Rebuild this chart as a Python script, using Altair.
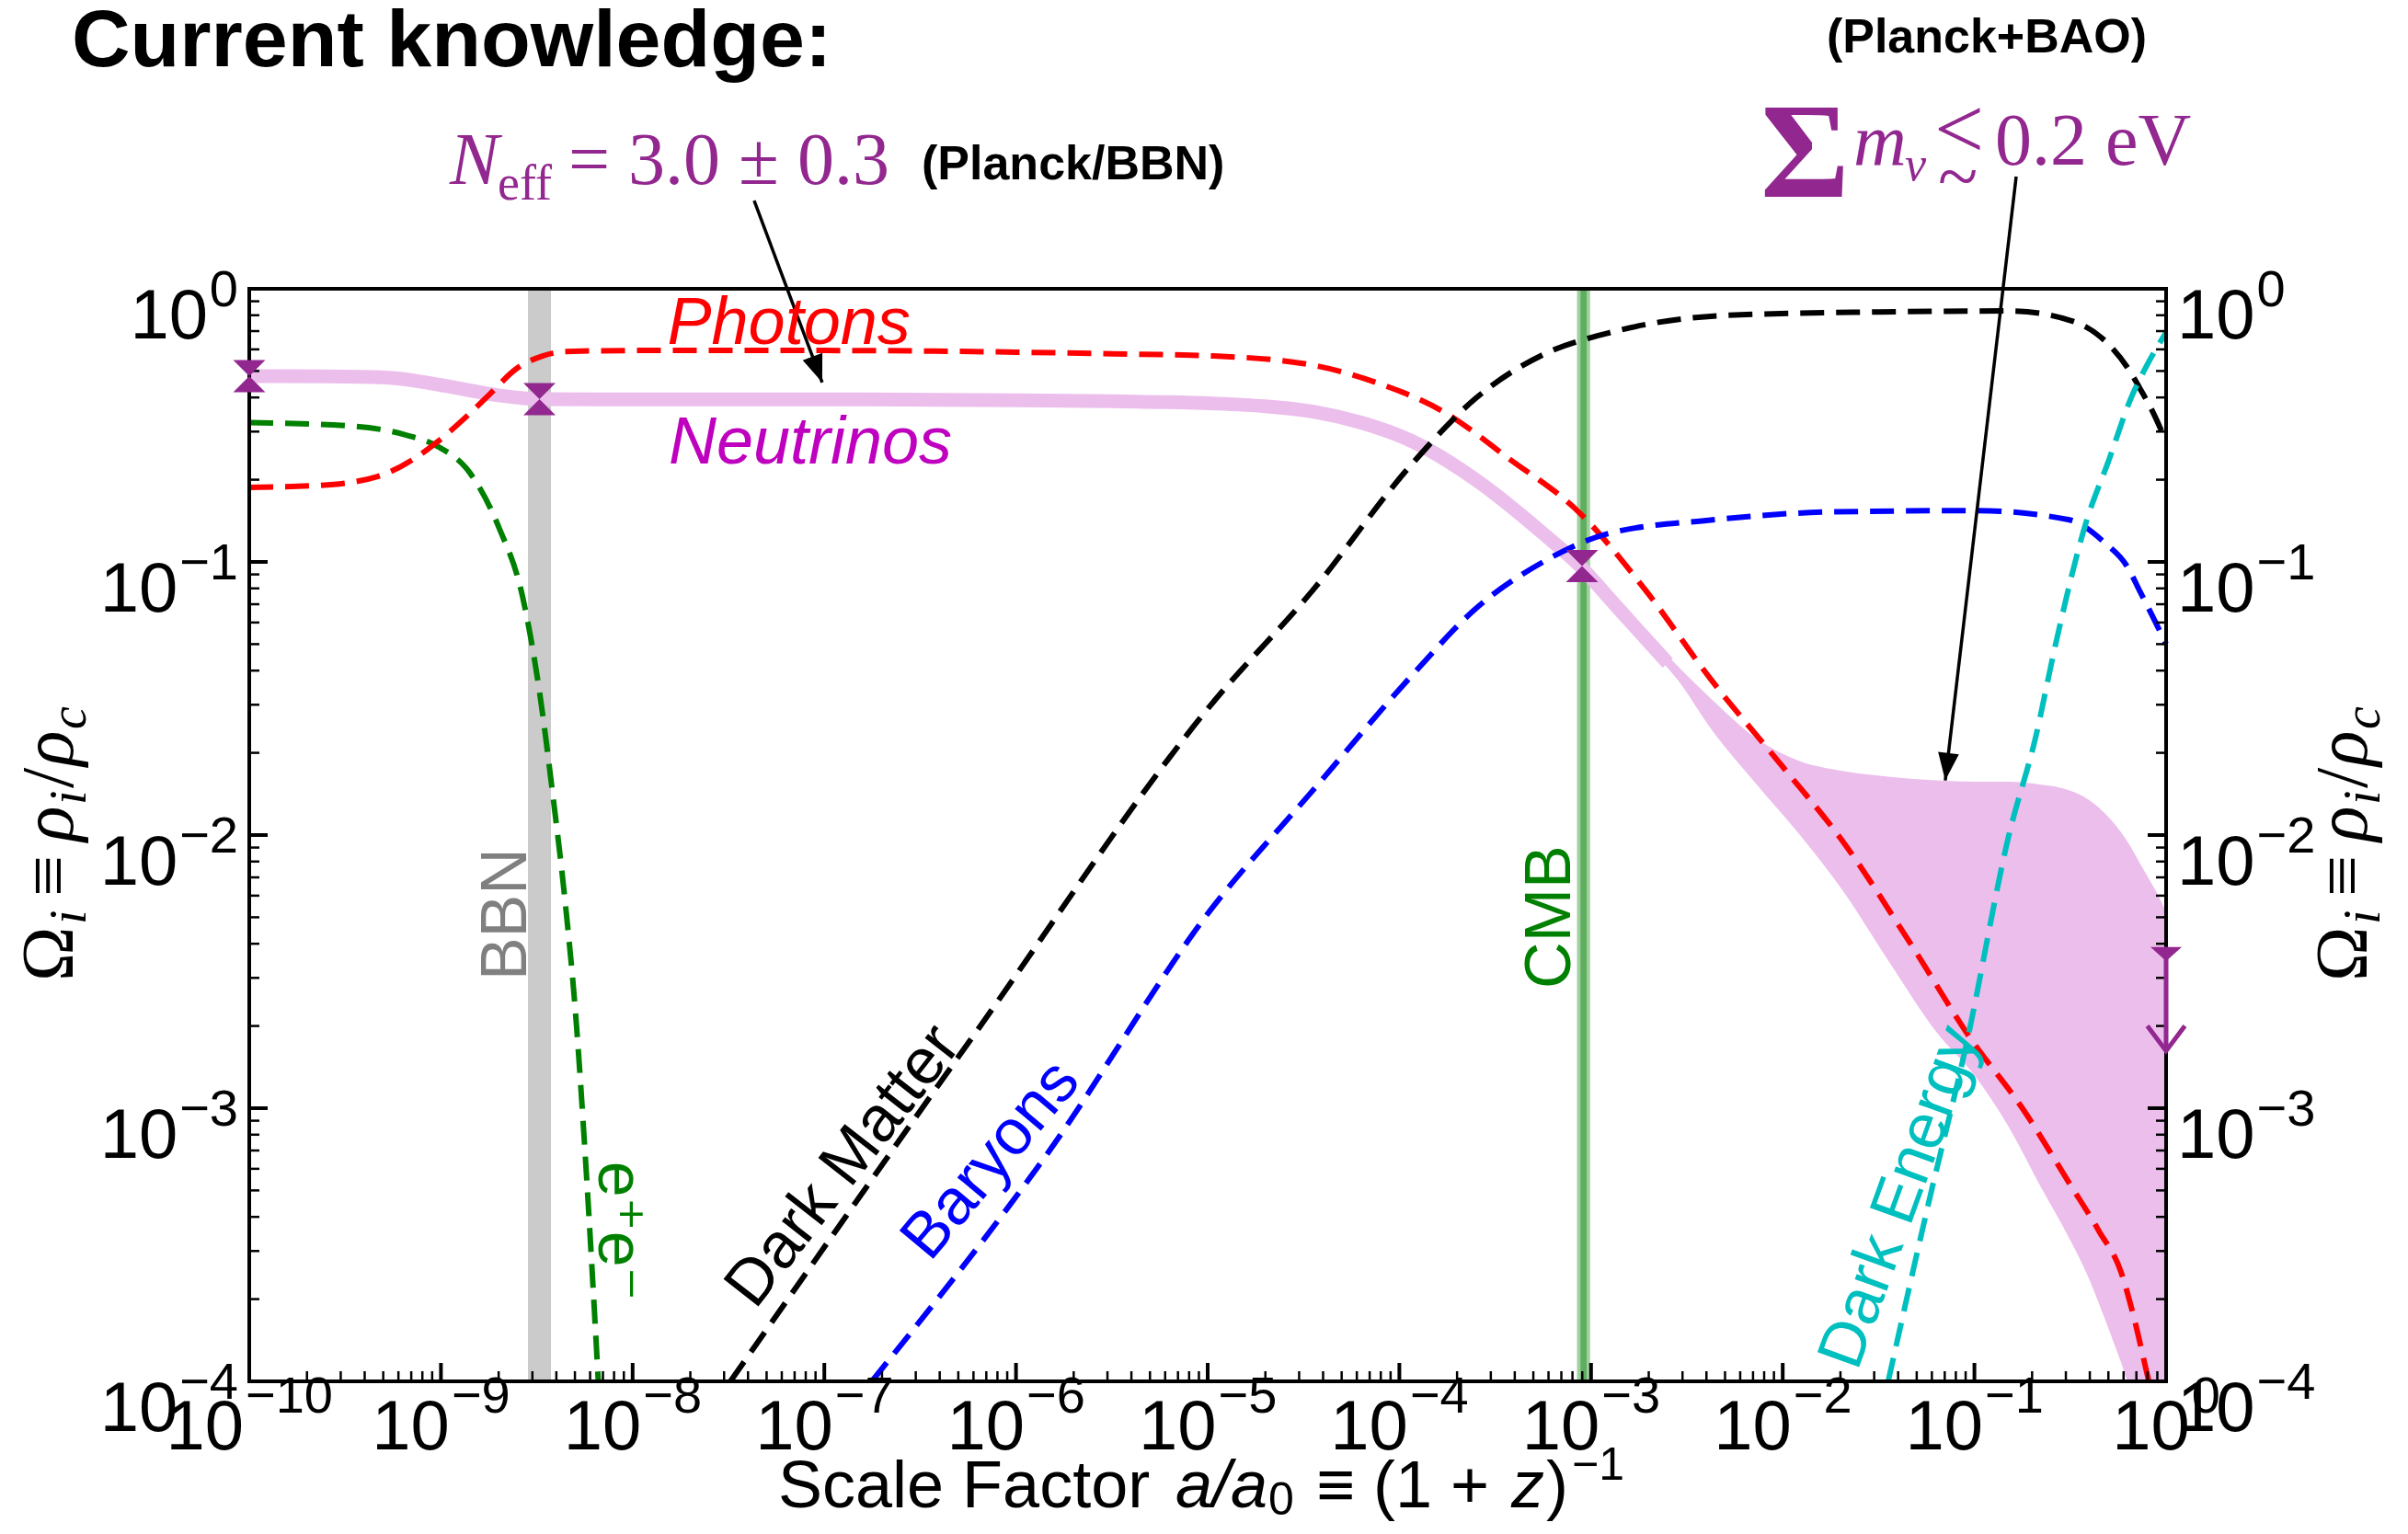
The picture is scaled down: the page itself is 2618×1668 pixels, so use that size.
import altair as alt
import numpy as np
import pandas as pd

# ---------------- values (log10 a, log10 Omega) ----------------
photon_loga = [-10.0, -9.64, -9.33, -9.155, -9.02, -8.864, -8.744, -8.607, -8.47, -8.35, -8.0, -7.0,
               -6.0, -5.5, -4.97, -4.45, -4.11, -3.77, -3.43, -3.06, -2.72, -2.375, -2.0, -1.69,
               -1.34, -1.02, -0.75, -0.5, -0.35, -0.235, -0.17, -0.1, -0.09]
photon_logo = [-0.727, -0.72, -0.687, -0.629, -0.561, -0.466, -0.385, -0.293, -0.246, -0.230, -0.226,
               -0.226, -0.232, -0.238, -0.246, -0.28, -0.346, -0.45, -0.621, -0.82, -1.10, -1.43,
               -1.75, -2.02, -2.39, -2.745, -3.0, -3.28, -3.45, -3.60, -3.76, -3.97, -4.0]

nu_loga = [-10.0, -9.6, -9.29, -8.95, -8.7, -8.49, -8.0, -7.0, -6.0, -5.5, -4.97, -4.45, -4.2,
           -3.94, -3.6, -3.25, -3.05, -2.9, -2.74, -2.6]
nu_logo = [-0.32, -0.321, -0.325, -0.359, -0.39, -0.404, -0.405, -0.405, -0.408, -0.412, -0.42,
           -0.45, -0.49, -0.556, -0.70, -0.896, -1.02, -1.137, -1.262, -1.37]

ee_loga = [-10.0, -9.46, -9.19, -9.02, -8.85, -8.70, -8.573, -8.487, -8.419, -8.35, -8.298, -8.247, -8.179]
ee_logo = [-0.49, -0.503, -0.534, -0.576, -0.673, -0.87, -1.131, -1.47, -1.838, -2.258, -2.65, -3.175, -4.0]

dm_loga = [-7.49, -6.187, -4.967, -4.453, -3.94, -3.6, -3.25, -2.91, -2.29, -1.5, -0.82, -0.49,
           -0.32, -0.2, -0.135, -0.07, 0.0]
dm_logo = [-4.0, -2.70, -1.51, -1.105, -0.646, -0.40, -0.241, -0.162, -0.097, -0.085, -0.081,
           -0.118, -0.19, -0.29, -0.367, -0.45, -0.56]

b_loga = [-6.752, -5.845, -4.967, -4.453, -3.94, -3.6, -3.25, -2.91, -2.377, -1.75, -1.0, -0.51,
          -0.32, -0.2, -0.135, -0.07, 0.0]
b_logo = [-4.0, -3.175, -2.258, -1.838, -1.42, -1.17, -1.0, -0.896, -0.847, -0.817, -0.812, -0.845,
          -0.93, -1.02, -1.11, -1.2, -1.30]

de_loga = [-1.45, -1.24, -1.04, -0.82, -0.68, -0.576, -0.415, -0.3, -0.183, -0.1, 0.0]
de_logo = [-4.0, -3.35, -2.76, -2.0, -1.64, -1.30, -0.85, -0.63, -0.40, -0.28, -0.16]

band_loga = [-3.05, -2.9, -2.74, -2.55, -2.375, -2.13, -1.91, -1.69, -1.44, -1.2, -1.0, -0.82, -0.66,
             -0.51, -0.405, -0.32, -0.235, -0.196, -0.115, -0.05, 0.0]
band_upper = [-0.998, -1.115, -1.24, -1.38, -1.50, -1.65, -1.73, -1.765, -1.787, -1.80, -1.805, -1.805,
              -1.815, -1.835, -1.87, -1.92, -1.99, -2.03, -2.13, -2.21, -2.28]
band_lower = [-1.042, -1.16, -1.285, -1.43, -1.61, -1.82, -2.0, -2.2, -2.47, -2.72, -2.88, -3.07, -3.28,
              -3.47, -3.62, -3.77, -3.93, -4.0, -4.0, -4.0, -4.0]

# measurement markers (hourglass) and the mass upper limit
marker_loga = [-10.0, -8.486, -3.047]
marker_logo = [-0.32, -0.404, -1.015]
limit_loga = 0.0
limit_top, limit_bottom = -2.41, -2.79

# vertical epochs
bbn_range = [-8.546, -8.426]
cmb_range = [-3.073, -3.005]
cmb_core = [-3.055, -3.023]

# annotation arrows (start -> tip), log10 coordinates
arrow_loga = [[-7.366, -7.011], [-0.782, -1.152]]
arrow_logo = [[0.323, -0.343], [0.411, -1.80]]
arrow_angle = [339.5, 6.7]

# curve labels
label_text = ["Dark Matter", "Baryons", "Dark Energy", "BBN", "CMB", "e\u207ae\u207b"]
label_loga = [-6.9, -6.13, -1.387, -8.657, -3.21, -8.076]
label_logo = [-3.212, -3.19, -3.327, -2.29, -2.30, -3.45]
label_angle = [308, 310, 290, 270, 270, 90]
label_color = ["black", "#0000ff", "#00bfbf", "#808080", "#008000", "#008000"]

italic_text = ["Photons", "Neutrinos"]
italic_loga = [-7.185, -7.073]
italic_logo = [-0.202, -0.64]
italic_color = ["#ff0000", "#bf00bf"]

x_decades = list(range(-10, 1))
y_decades = list(range(-4, 1))

# ---------------- styling ----------------
W, H = 2084, 1188
XS = alt.Scale(type="log", domain=[1e-10, 1.0], nice=False)
YS = alt.Scale(type="log", domain=[1e-4, 1.0], nice=False)
SANS = "Liberation Sans, Arial, Helvetica, DejaVu Sans"
SERIF = "Liberation Serif, Times New Roman, DejaVu Serif"
PURPLE = "#92278f"
PINK = "#ecbeec"
DASH = [26, 13]


def p10(v):
    return np.power(10.0, np.asarray(v, dtype=float))


def X(f="a"):
    return alt.X(f"{f}:Q", scale=XS, axis=None)


def Y(f="o"):
    return alt.Y(f"{f}:Q", scale=YS, axis=None)


def curve(loga, logo, color, width=6, dash=DASH):
    df = pd.DataFrame({"a": p10(loga), "o": p10(logo), "k": np.arange(len(loga))})
    kw = dict(color=color, strokeWidth=width, interpolate="monotone")
    if dash:
        kw["strokeDash"] = dash
    return alt.Chart(df).mark_line(**kw).encode(x=X(), y=Y(), order="k:Q")


def ptext(txt, x, y, size, font=SANS, color="black", weight="normal", style="normal",
          align="left", baseline="alphabetic", angle=None):
    df = pd.DataFrame({"t": [txt]})
    kw = dict(font=font, fontSize=size, color=color, fontWeight=weight, fontStyle=style,
              align=align, baseline=baseline)
    if angle is not None:
        kw["angle"] = angle
    return alt.Chart(df).mark_text(**kw).encode(x=alt.value(x), y=alt.value(y), text="t:N")


layers = []

# epoch bands
bands = pd.DataFrame({
    "x1": p10([bbn_range[0], cmb_range[0], cmb_core[0]]),
    "x2": p10([bbn_range[1], cmb_range[1], cmb_core[1]]),
    "c": ["#cbcbcb", "#9fd09f", "#5fae5f"],
})
layers.append(alt.Chart(bands).mark_rect().encode(
    x=X("x1"), x2="x2:Q", y=alt.value(0), y2=alt.value(H), color=alt.Color("c:N", scale=None)))

# neutrino band and line
band_df = pd.DataFrame({"a": p10(band_loga), "lo": p10(band_lower), "hi": p10(band_upper)})
layers.append(alt.Chart(band_df).mark_area(color=PINK, opacity=1, interpolate="monotone", clip=True)
              .encode(x=X(), y=Y("lo"), y2="hi:Q"))
layers.append(curve(nu_loga, nu_logo, PINK, width=15, dash=None))

# species curves
layers.append(curve(ee_loga, ee_logo, "#008000"))
layers.append(curve(photon_loga, photon_logo, "#ff0000", width=6))
layers.append(curve(dm_loga, dm_logo, "black"))
layers.append(curve(b_loga, b_logo, "#0000ff"))
layers.append(curve(de_loga, de_logo, "#00bfbf"))

# annotation arrows
arr_rows = []
for i, (la, lo) in enumerate(zip(arrow_loga, arrow_logo)):
    for k in range(2):
        arr_rows.append({"a": 10 ** la[k], "o": 10 ** lo[k], "id": i, "k": k})
arr_df = pd.DataFrame(arr_rows)
layers.append(alt.Chart(arr_df).mark_line(color="black", strokeWidth=3.5)
              .encode(x=X(), y=Y(), detail="id:N", order="k:Q"))
head_df = pd.DataFrame({"a": [10 ** la[1] for la in arrow_loga],
                        "o": [10 ** lo[1] for lo in arrow_logo],
                        "ang": arrow_angle})
layers.append(alt.Chart(head_df).mark_point(shape="M0,0L-0.38,-1L0.38,-1Z", filled=True, size=3600,
                                             color="black", opacity=1)
              .encode(x=X(), y=Y(), angle=alt.Angle("ang:Q", scale=None)))

# frame
layers.append(alt.Chart(pd.DataFrame({"z": [0]})).mark_rect(fillOpacity=0, stroke="black", strokeWidth=4)
              .encode(x=alt.value(0), x2=alt.value(W), y=alt.value(0), y2=alt.value(H)))

# ticks
x_major = p10(x_decades)
x_minor = [k * 10.0 ** d for d in x_decades[:-1] for k in range(2, 10)]
y_major = p10(y_decades)
y_minor = [k * 10.0 ** d for d in y_decades[:-1] for k in range(2, 10)]
for vals, ln, sw in [(x_major, 20, 4), (x_minor, 11, 2.5)]:
    layers.append(alt.Chart(pd.DataFrame({"a": vals})).mark_rule(color="black", strokeWidth=sw)
                  .encode(x=X(), y=alt.value(H), y2=alt.value(H - ln)))
for vals, ln, sw in [(y_major, 20, 4), (y_minor, 11, 2.5)]:
    d = pd.DataFrame({"o": vals})
    layers.append(alt.Chart(d).mark_rule(color="black", strokeWidth=sw)
                  .encode(y=Y(), x=alt.value(0), x2=alt.value(ln)))
    layers.append(alt.Chart(d).mark_rule(color="black", strokeWidth=sw)
                  .encode(y=Y(), x=alt.value(W), x2=alt.value(W - ln)))

# markers
mk_df = pd.DataFrame({"a": p10(marker_loga), "o": p10(marker_logo)})
layers.append(alt.Chart(mk_df).mark_point(shape="M-1,-1L1,-1L0,0ZM-1,1L1,1L0,0Z", filled=True,
                                           size=1225, color=PURPLE, opacity=1).encode(x=X(), y=Y()))
lim_df = pd.DataFrame({"a": [10 ** limit_loga], "o1": [10 ** limit_top], "o2": [10 ** limit_bottom]})
layers.append(alt.Chart(lim_df).mark_rule(color=PURPLE, strokeWidth=5).encode(x=X(), y=Y("o1"), y2="o2:Q"))
layers.append(alt.Chart(lim_df).mark_point(shape="M-1,0L1,0L0,0.9Z", filled=True, size=1156,
                                            color=PURPLE, opacity=1).encode(x=X(), y=Y("o1")))
layers.append(alt.Chart(lim_df).mark_point(shape="M-1.2,-1.6L0,0L1.2,-1.6", filled=False, size=1156,
                                            strokeWidth=5, color=PURPLE, opacity=1).encode(x=X(), y=Y("o2")))

# tick labels
def exp_str(d):
    return "0" if d == 0 else "\u2212" + str(-d)


for group, base_dx, exp_dx in [([-10], -6, -4), (list(range(-9, 0)), 9.5, 11.5), ([0], 25.7, 27.7)]:
    d = pd.DataFrame({"a": p10(group), "b": ["10"] * len(group), "e": [exp_str(g) for g in group]})
    layers.append(alt.Chart(d).mark_text(font=SANS, fontSize=76, align="right", dx=base_dx)
                  .encode(x=X(), y=alt.value(H + 51), text="b:N"))
    layers.append(alt.Chart(d).mark_text(font=SANS, fontSize=56, align="left", dx=exp_dx)
                  .encode(x=X(), y=alt.value(H + 17), text="e:N"))

for group, wexp in [([0], 31), (list(range(-4, 0)), 63.7)]:
    d = pd.DataFrame({"o": p10(group), "b": ["10"] * len(group), "e": [exp_str(g) for g in group]})
    layers.append(alt.Chart(d).mark_text(font=SANS, fontSize=76, align="right", dy=31)
                  .encode(y=Y(), x=alt.value(-12 - wexp - 2), text="b:N"))
    layers.append(alt.Chart(d).mark_text(font=SANS, fontSize=56, align="right", dy=2)
                  .encode(y=Y(), x=alt.value(-12), text="e:N"))
    layers.append(alt.Chart(d).mark_text(font=SANS, fontSize=76, align="left", dy=31)
                  .encode(y=Y(), x=alt.value(W + 12), text="b:N"))
    layers.append(alt.Chart(d).mark_text(font=SANS, fontSize=56, align="left", dy=2)
                  .encode(y=Y(), x=alt.value(W + 98.5), text="e:N"))

# curve labels
lab_df = pd.DataFrame({"a": p10(label_loga), "o": p10(label_logo), "t": label_text,
                       "ang": label_angle, "c": label_color})
layers.append(alt.Chart(lab_df).mark_text(font=SANS, fontSize=70, align="center", baseline="middle")
              .encode(x=X(), y=Y(), text="t:N", angle=alt.Angle("ang:Q", scale=None),
                      color=alt.Color("c:N", scale=None)))
it_df = pd.DataFrame({"a": p10(italic_loga), "o": p10(italic_logo), "t": italic_text, "c": italic_color})
layers.append(alt.Chart(it_df).mark_text(font=SANS, fontSize=72, fontStyle="italic", align="center",
                                          baseline="alphabetic")
              .encode(x=X(), y=Y(), text="t:N", color=alt.Color("c:N", scale=None)))

# titles and annotations (pixel offsets relative to the plot's top-left corner)
layers.append(ptext("Current knowledge:", -193, -242, 88, weight="bold"))
layers.append(ptext("(Planck+BAO)", 1889, -257, 52, weight="bold", align="center"))
layers.append(ptext("(Planck/BBN)", 731, -119, 52, weight="bold"))
layers.append(ptext("N", 218, -114, 80, font=SERIF, color=PURPLE, style="italic"))
layers.append(ptext("eff", 270, -97, 54, font=SERIF, color=PURPLE))
layers.append(ptext("= 3.0 \u00b1 0.3", 347, -114, 80, font=SERIF, color=PURPLE))
layers.append(ptext("\u03a3", 1643, -100, 148, font=SERIF, color=PURPLE, weight="bold"))
layers.append(ptext("m", 1744, -135, 80, font=SERIF, color=PURPLE, style="italic"))
layers.append(ptext("\u03bd", 1800, -118, 52, font=SERIF, color=PURPLE, style="italic"))
layers.append(ptext("<", 1832, -142, 96, font=SERIF, color=PURPLE))
layers.append(ptext("~", 1836, -95, 80, font=SERIF, color=PURPLE))
layers.append(ptext("0.2 eV", 1898, -135, 80, font=SERIF, color=PURPLE))

# x axis title
xt_y = H + 137
layers.append(ptext("Scale Factor", 575, xt_y, 72))
layers.append(ptext("a/a", 1007, xt_y, 72, style="italic"))
layers.append(ptext("0", 1108, xt_y + 8, 50))
layers.append(ptext("\u2261", 1160, xt_y, 72))
layers.append(ptext("(1 +", 1222, xt_y, 72))
layers.append(ptext("z", 1372, xt_y, 72, style="italic"))
layers.append(ptext(")", 1410, xt_y, 72))
layers.append(ptext("\u22121", 1438, xt_y - 30, 50))

# y axis titles (left and right), reading upward
for bx in (-192, 2302):
    s0 = 753
    layers.append(ptext("\u03a9", bx, s0, 80, font=SERIF, angle=270))
    layers.append(ptext("i", bx + 14, s0 - 62, 56, font=SERIF, style="italic", angle=270))
    layers.append(ptext("\u2261", bx, s0 - 92, 80, font=SERIF, angle=270))
    layers.append(ptext("\u03c1", bx, s0 - 152, 80, font=SERIF, style="italic", angle=270))
    layers.append(ptext("i", bx + 14, s0 - 192, 56, font=SERIF, style="italic", angle=270))
    layers.append(ptext("/", bx, s0 - 210, 80, font=SERIF, angle=270))
    layers.append(ptext("\u03c1", bx, s0 - 234, 80, font=SERIF, style="italic", angle=270))
    layers.append(ptext("c", bx + 14, s0 - 274, 56, font=SERIF, style="italic", angle=270))

chart = alt.layer(*layers).properties(
    width=W, height=H,
    autosize=alt.AutoSizeParams(type="none"),
    padding={"left": 263, "top": 306, "right": 252, "bottom": 153},
).configure_view(strokeWidth=0)

chart.save("out.html", embed_options={"renderer": "svg", "actions": False})
